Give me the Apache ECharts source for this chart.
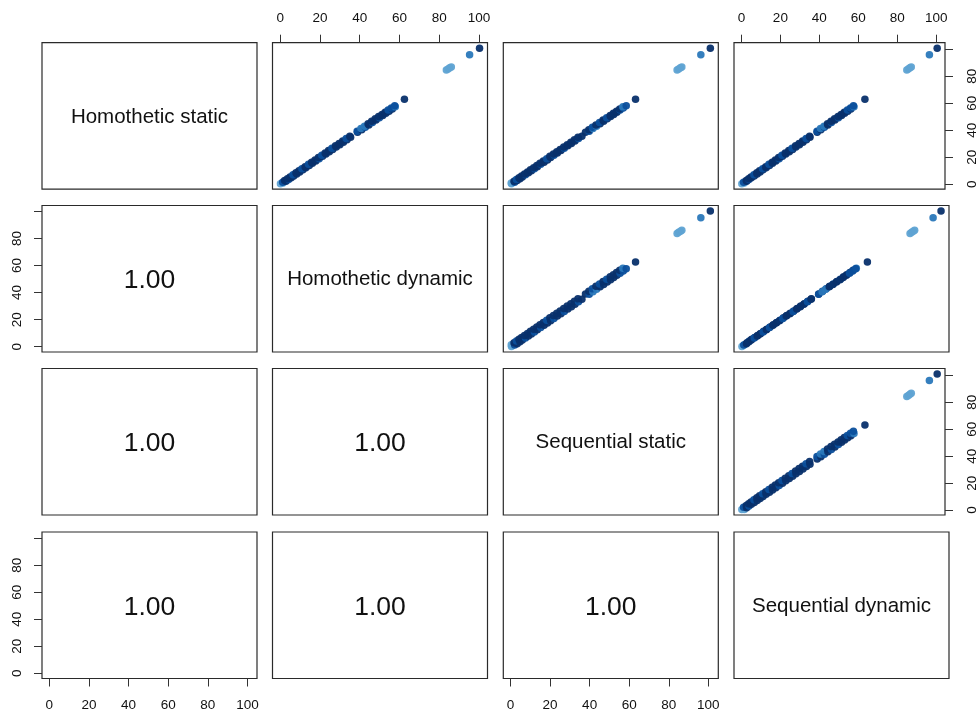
<!DOCTYPE html>
<html><head><meta charset="utf-8">
<script src="https://cdn.jsdelivr.net/npm/echarts@6/dist/echarts.min.js"></script>
<style>html,body{margin:0;padding:0;background:#fff}#c{width:979px;height:713px}</style>
</head><body><div id="c"></div>
<script>
// ---- data ----
const varNames = ['Homothetic static', 'Homothetic dynamic', 'Sequential static', 'Sequential dynamic'];

const homotheticStatic = [
  0.3, 0.9, 1.5, 2.2, 2.8, 3.5, 4.1, 4.8, 5.4, 6.1,
  6.9, 7.6, 8.4, 9.1, 9.9, 10.7, 11.4, 12.2, 13.0, 13.9,
  14.7, 15.5, 16.3, 17.2, 18.0, 18.9, 19.7, 20.6, 21.4, 22.3,
  23.1, 24.0, 24.9, 25.7, 26.6, 27.5, 28.4, 29.3, 30.2, 31.1,
  32.0, 32.9, 33.8, 34.7, 35.6, 38.4, 39.3, 40.3, 41.2, 42.1,
  43.0, 43.9, 44.8, 45.7, 46.6, 47.5, 48.4, 49.2, 50.1, 50.9,
  51.7, 52.5, 53.3, 54.1, 54.9, 55.7, 56.5, 57.3, 58.1, 62.9,
  84.6, 85.4, 86.2, 86.9, 95.8, 100.8];

const homotheticDynamic = [
  0.1, 1.4, 1.2, 2.9, 2.2, 4.2, 3.6, 5.5, 4.9, 6.8,
  6.4, 8.3, 7.9, 9.8, 9.4, 11.4, 10.9, 12.9, 12.5, 14.6,
  14.2, 16.2, 15.8, 17.9, 17.5, 19.6, 19.2, 21.3, 20.9, 23.0,
  22.6, 24.7, 24.3, 26.4, 26.0, 28.2, 27.8, 30.0, 29.6, 31.8,
  31.4, 33.6, 33.2, 35.4, 35.0, 38.9, 38.7, 41.0, 40.6, 42.8,
  42.4, 44.6, 44.2, 46.4, 46.0, 48.2, 47.8, 49.9, 49.5, 51.6,
  51.2, 53.2, 52.8, 54.8, 54.3, 56.4, 55.9, 57.9, 57.6, 62.5,
  83.6, 84.5, 85.3, 86.1, 95.3, 100.3];

const sequentialStatic = [
  0.5, 0.4, 2.1, 1.8, 3.4, 3.0, 4.8, 4.3, 6.0, 5.6,
  7.6, 7.1, 9.1, 8.6, 10.6, 10.1, 12.1, 11.7, 13.6, 13.3,
  15.3, 14.9, 17.0, 16.6, 18.7, 18.3, 20.3, 19.9, 22.0, 21.7,
  23.7, 23.4, 25.5, 25.1, 27.2, 26.9, 29.0, 28.7, 30.8, 30.5,
  32.6, 32.3, 34.4, 34.1, 36.1, 37.9, 39.8, 39.6, 41.7, 41.4,
  43.5, 43.2, 45.3, 45.0, 47.1, 46.8, 48.9, 48.6, 50.6, 50.4,
  52.2, 52.0, 53.8, 53.6, 55.4, 55.2, 57.0, 56.8, 58.5, 63.2,
  84.2, 85.0, 85.9, 86.6, 96.2, 101.0];

const sequentialDynamic = [
  0.2, 1.5, 1.1, 2.7, 2.5, 3.9, 3.7, 5.1, 4.9, 6.6,
  6.4, 8.1, 7.9, 9.6, 9.3, 11.1, 10.9, 12.7, 12.5, 14.4,
  14.1, 16.0, 15.8, 17.7, 17.4, 19.4, 19.1, 21.1, 20.8, 22.8,
  22.5, 24.6, 24.3, 26.3, 26.0, 28.0, 27.8, 29.8, 29.6, 31.6,
  31.4, 33.4, 33.2, 35.2, 35.0, 38.9, 38.8, 40.8, 40.6, 42.6,
  42.4, 44.4, 44.2, 46.2, 46.0, 48.0, 47.8, 49.8, 49.6, 51.4,
  51.2, 53.0, 52.8, 54.6, 54.4, 56.2, 56.0, 57.8, 57.5, 63.4,
  84.9, 85.7, 86.5, 87.2, 96.5, 100.5];

// colour group of each observation (1 = lightest ... 4 = darkest)
const groups = [
  1, 1, 3, 4, 4, 3, 4, 4, 4, 4,
  3, 4, 4, 4, 4, 4, 3, 4, 4, 4,
  3, 4, 4, 4, 4, 3, 4, 4, 3, 4,
  4, 4, 4, 4, 3, 4, 4, 4, 4, 4,
  4, 4, 3, 4, 4, 4, 3, 4, 2, 3,
  2, 4, 4, 3, 4, 4, 4, 3, 4, 4,
  4, 4, 4, 4, 3, 4, 3, 2, 3, 4,
  1, 1, 1, 1, 2, 4];

const tickValues = [0, 20, 40, 60, 80, 100];
const xLabelValues = [0, 20, 40, 60, 80, 100];
const yLabelValues = [0, 20, 40, 60, 80];

// ---- layout / style ----
const vars = [homotheticStatic, homotheticDynamic, sequentialStatic, sequentialDynamic];
const palette = ['#5fa3d3', '#2a78bb', '#0b4f9c', '#08306b'];
const colLeft = [42, 272.5, 503.3, 734];
const rowTop = [42.7, 205.5, 368.5, 532];
const panelW = 215, panelH = 146.5;
const FONT = '"Liberation Sans", Arial, sans-serif';

function ext(v) {
  const lo = Math.min(...v), hi = Math.max(...v), e = (hi - lo) * 0.04;
  return [lo - e, hi + e];
}
function corr(a, b) {
  const n = a.length;
  const ma = a.reduce((s, x) => s + x, 0) / n, mb = b.reduce((s, x) => s + x, 0) / n;
  let sab = 0, saa = 0, sbb = 0;
  for (let i = 0; i < n; i++) { const da = a[i] - ma, db = b[i] - mb; sab += da * db; saa += da * da; sbb += db * db; }
  return sab / Math.sqrt(saa * sbb);
}

const grid = [], xAxis = [], yAxis = [], series = [], graphic = [];
const tickStyle = { show: true, inside: false, length: 8, lineStyle: { color: '#333', width: 1 } };

for (let i = 0; i < 4; i++) {
  for (let j = 0; j < 4; j++) {
    const k = i * 4 + j;
    grid.push({ left: colLeft[j], top: rowTop[i], width: panelW, height: panelH,
      show: true, borderColor: '#2a2a2a', borderWidth: 1.2, backgroundColor: 'transparent', containLabel: false });
    const xr = ext(vars[j]), yr = ext(vars[i]);
    const xLab = (i === 0 && j % 2 === 1) ? 'top' : (i === 3 && j % 2 === 0) ? 'bottom' : null;
    const yLab = (j === 0 && i % 2 === 1) ? 'left' : (j === 3 && i % 2 === 0) ? 'right' : null;
    xAxis.push({ gridIndex: k, type: 'value', min: xr[0], max: xr[1], position: xLab || 'bottom',
      axisLine: { show: false, onZero: false }, splitLine: { show: false },
      axisTick: xLab ? Object.assign({ customValues: tickValues }, tickStyle) : { show: false },
      axisLabel: xLab ? { show: true, customValues: xLabelValues, margin: xLab === 'top' ? 17 : 20, fontSize: 13.5, fontFamily: FONT, color: '#111' } : { show: false } });
    yAxis.push({ gridIndex: k, type: 'value', min: yr[0], max: yr[1], position: yLab || 'left',
      axisLine: { show: false, onZero: false }, splitLine: { show: false },
      axisTick: yLab ? Object.assign({ customValues: tickValues }, tickStyle) : { show: false },
      axisLabel: yLab ? { show: true, customValues: yLabelValues, rotate: 90, margin: yLab === 'right' ? 20 : 18, fontSize: 13.5, fontFamily: FONT, color: '#111' } : { show: false } });

    const cx = colLeft[j] + panelW / 2, cy = rowTop[i] + panelH / 2;
    if (i < j) {
      series.push({ type: 'scatter', xAxisIndex: k, yAxisIndex: k, symbolSize: 7.5, silent: true,
        data: vars[j].map((x, n) => ({ value: [x, vars[i][n]], itemStyle: { color: palette[groups[n] - 1], opacity: 0.95 } })) });
    } else if (i === j) {
      graphic.push({ type: 'text', x: cx, y: cy + 1, silent: true,
        style: { text: varNames[i], font: '20.5px ' + FONT, fill: '#111', align: 'center', verticalAlign: 'middle', textAlign: 'center', textVerticalAlign: 'middle' } });
    } else {
      graphic.push({ type: 'text', x: cx, y: cy + 2, silent: true,
        style: { text: corr(vars[i], vars[j]).toFixed(2), font: '26.5px ' + FONT, fill: '#111', align: 'center', verticalAlign: 'middle', textAlign: 'center', textVerticalAlign: 'middle' } });
    }
  }
}

const chart = echarts.init(document.getElementById('c'), null, { renderer: 'canvas' });
chart.setOption({ animation: false, backgroundColor: '#fff', grid, xAxis, yAxis, series, graphic });
</script>
</body></html>
